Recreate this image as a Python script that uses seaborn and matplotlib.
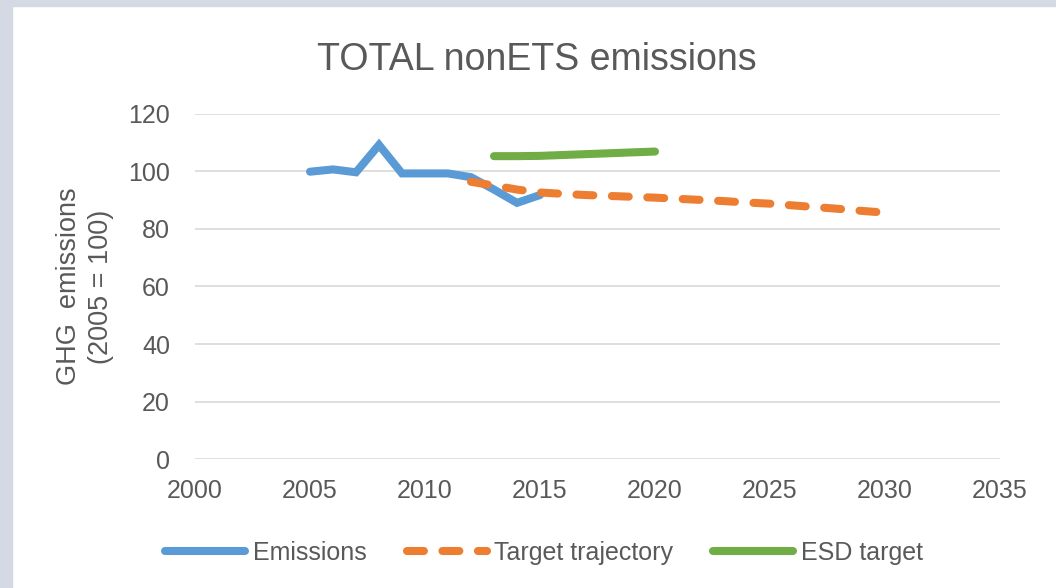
import matplotlib
matplotlib.use("Agg")
import matplotlib.pyplot as plt
from matplotlib.patches import Rectangle
import seaborn as sns
import pandas as pd

# values (index 2005 = 100)
emission_years = [2005, 2006, 2007, 2008, 2009, 2010, 2011, 2012, 2013, 2014, 2015]
emission_values = [99.8, 100.6, 99.6, 109.1, 99.2, 99.2, 99.2, 97.9, 93.6, 89.0, 91.7]

target_years = list(range(2012, 2031))
target_values = [96.3, 95.0, 93.6, 92.6, 92.1, 91.7, 91.4, 91.1, 90.8, 90.4,
                 90.0, 89.6, 89.1, 88.7, 88.1, 87.5, 86.9, 86.2, 85.6]

esd_years = list(range(2013, 2021))
esd_values = [105.2, 105.2, 105.3, 105.6, 105.9, 106.2, 106.5, 106.8]

x_ticks = [2000, 2005, 2010, 2015, 2020, 2025, 2030, 2035]
y_ticks = [0, 20, 40, 60, 80, 100, 120]

series_names = ["Emissions", "Target trajectory", "ESD target"]
colors = {"Emissions": "#5B9BD5", "Target trajectory": "#ED7D31", "ESD target": "#70AD47"}

df = pd.concat([
    pd.DataFrame({"year": emission_years, "value": emission_values, "series": "Emissions"}),
    pd.DataFrame({"year": target_years, "value": target_values, "series": "Target trajectory"}),
    pd.DataFrame({"year": esd_years, "value": esd_values, "series": "ESD target"}),
], ignore_index=True)

sns.set_theme(style="whitegrid")
plt.rcParams["font.family"] = ["Liberation Sans", "DejaVu Sans"]
text_color = "#595959"

fig = plt.figure(figsize=(10.56, 5.88), dpi=100, facecolor="white")
# slide background showing at the top and left edges
fig.patches.append(Rectangle((0, 1 - 6 / 588), 1, 6 / 588, transform=fig.transFigure,
                             color="#D5D9E3", zorder=0))
fig.patches.append(Rectangle((0, 0), 12 / 1056, 1, transform=fig.transFigure,
                             color="#D5D9E3", zorder=0))

ax = fig.add_axes([195 / 1056, 1 - 459.3 / 588, 805 / 1056, (459.3 - 113.5) / 588])

sns.lineplot(data=df, x="year", y="value", hue="series", hue_order=series_names,
             palette=colors, linewidth=5.8, ax=ax, legend=False)

for line, name in zip(ax.get_lines(), series_names):
    line.set_solid_capstyle("round")
    line.set_solid_joinstyle("miter")
    line.set_dash_capstyle("round")
    if name == "Target trajectory":
        line.set_dashes((2.1, 2.3))

ax.set_xlim(2000, 2035)
ax.set_ylim(0, 120)
ax.set_xticks(x_ticks)
ax.set_yticks(y_ticks)
ax.grid(axis="x", visible=False)
ax.grid(axis="y", color="#D9D9D9", linewidth=1.2)
ax.set_facecolor("white")
for s in ax.spines.values():
    s.set_visible(False)
ax.tick_params(axis="both", length=0, labelsize=18, labelcolor=text_color)
ax.tick_params(axis="y", pad=18)
ax.tick_params(axis="x", pad=14)
ax.set_xlabel("")
ax.set_ylabel("GHG  emissions\n(2005 = 100)", fontsize=19.5, color=text_color,
              linespacing=1.3, va="center")
ax.yaxis.set_label_coords((85 - 195) / 805, 0.5)

fig.text(537 / 1056, 1 - 70 / 588, "TOTAL nonETS emissions", fontsize=27,
         color=text_color, ha="center", va="baseline")

handles = []
for name in series_names:
    h, = ax.plot([], [], color=colors[name], linewidth=5.8, solid_capstyle="round",
                 dash_capstyle="round", label=name)
    if name == "Target trajectory":
        h.set_dashes((2.1, 2.3))
    handles.append(h)
leg = fig.legend(handles=handles, loc="center", bbox_to_anchor=(544 / 1056, 1 - 553 / 588),
                 ncol=3, frameon=False, fontsize=18, handlelength=3.2, handletextpad=0.3,
                 columnspacing=1.6)
for t in leg.get_texts():
    t.set_color(text_color)

fig.savefig("out.png", dpi=100, facecolor="white")
